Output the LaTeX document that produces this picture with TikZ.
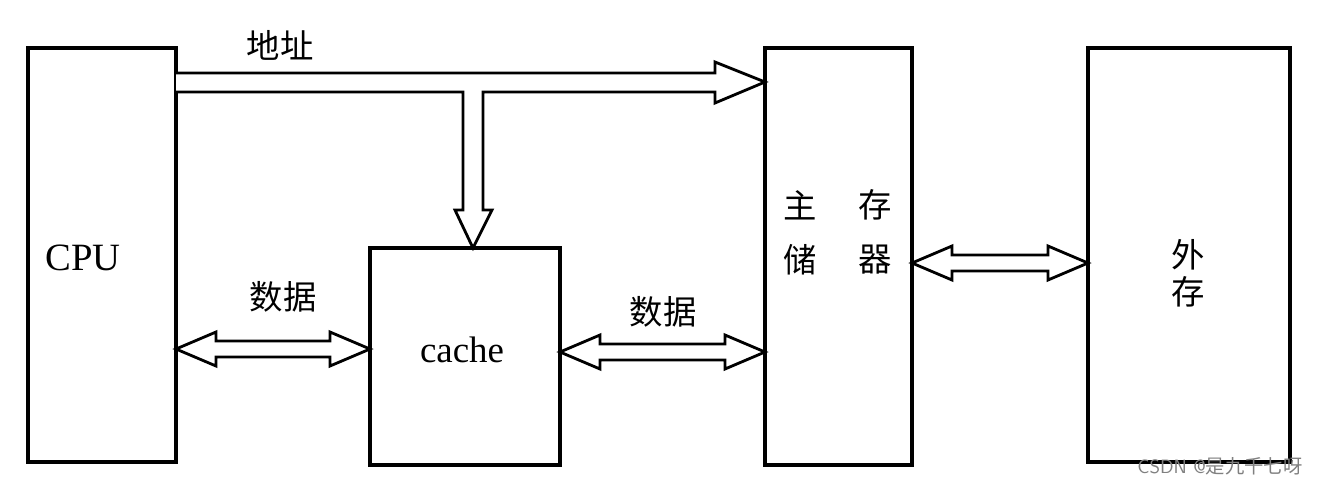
\documentclass[tikz,border=0pt]{standalone}
\usepackage{fontspec}
\setmainfont{Liberation Serif}
\newfontfamily\cjk{Noto Sans CJK SC}
\usetikzlibrary{calc}
\tikzset{
  box/.style={draw,line width=2.2pt,minimum width=#1,inner sep=0pt},
  bus/.style={line width=1.6pt,fill=white,line join=miter},
  lbl/.style={font=\cjk\fontsize{19}{19}\selectfont},
}
% hollow double-headed bus between (x1,y) and (x2,y)
\newcommand{\hbus}[3]{%
  \draw[bus] (#1,#3) -- (#1+40,#3-17) -- (#1+40,#3-8) -- (#2-40,#3-8) -- (#2-40,#3-17)
    -- (#2,#3) -- (#2-40,#3+17) -- (#2-40,#3+8) -- (#1+40,#3+8) -- (#1+40,#3+17) -- cycle;}
\begin{document}
\begin{tikzpicture}[x=0.02cm,y=-0.02cm]
\useasboundingbox (0,0) rectangle (1323,488);
% boxes
\draw[line width=2.2pt] (28,48) rectangle (176,462);
\node at (83,258) {\fontsize{22}{22}\selectfont CPU};
\draw[line width=2.2pt] (370,248) rectangle (560,465);
\node at (462,350) {\fontsize{21}{21}\selectfont cache};
\draw[line width=2.2pt] (765,48) rectangle (912,465);
\node[lbl] at (800,205) {主};
\node[lbl] at (875,205) {存};
\node[lbl] at (800,260) {储};
\node[lbl] at (875,260) {器};
\draw[line width=2.2pt] (1088,48) rectangle (1290,462);
\node[lbl] at (1188,255) {外};
\node[lbl] at (1188,292) {存};
% address bus
\draw[bus] (176,73) -- (715,73) -- (715,62) -- (765,82) -- (715,103) -- (715,92)
  -- (483,92) -- (483,210) -- (492,210) -- (473,248) -- (455,210) -- (463,210)
  -- (463,92) -- (176,92);
\node[lbl] at (280,45) {地址};
% data buses
\hbus{176}{370}{349}
\node[lbl] at (283,297) {数据};
\hbus{560}{765}{352}
\node[lbl] at (663,312) {数据};
\hbus{912}{1088}{263}
% watermark
\node[text=gray,font=\sffamily\fontsize{11}{11}\selectfont] at (1220,466) {CSDN @{\cjk 是九千七呀}};
\end{tikzpicture}
\end{document}
